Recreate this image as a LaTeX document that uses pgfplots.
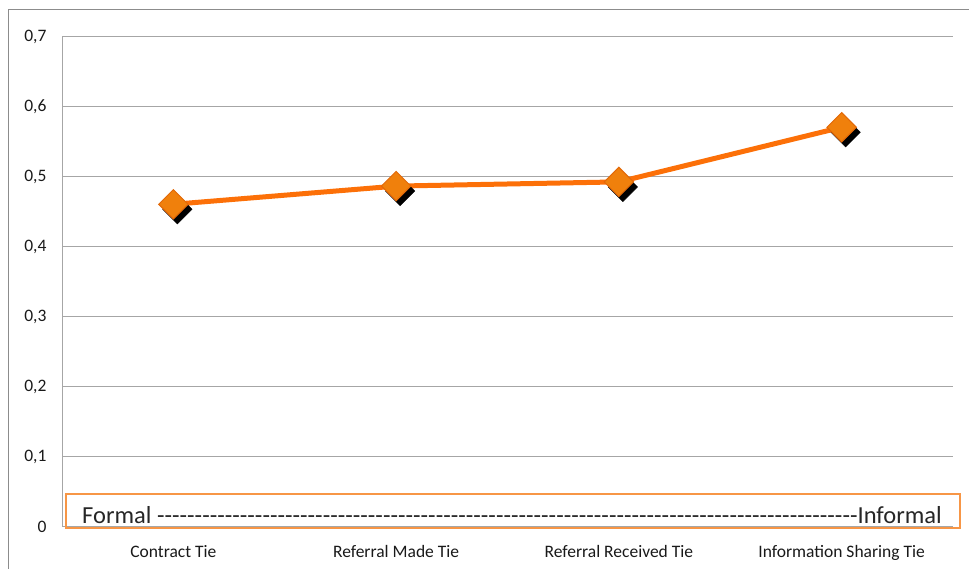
\documentclass[border=0pt]{standalone}
\usepackage{pgfplots}
\pgfplotsset{compat=1.18}
\usepackage{fontspec}
\setmainfont{Carlito}
\definecolor{lineor}{RGB}{252,112,8}
\definecolor{markor}{RGB}{240,128,12}
\definecolor{markedge}{RGB}{226,104,8}
\definecolor{boxor}{RGB}{247,150,70}
\definecolor{gridgray}{RGB}{166,166,166}
\definecolor{framegray}{RGB}{140,140,140}
\begin{document}
\begin{tikzpicture}[x=1pt,y=1pt]
\path[use as bounding box] (0,0) rectangle (969,569);
\draw[framegray, line width=1pt] (8,-10) rectangle (985,559);
\begin{axis}[
  at={(62pt,42pt)}, anchor=south west,
  scale only axis, width=891pt, height=490pt,
  xmin=-0.5, xmax=3.5, ymin=0, ymax=0.7,
  xtick={0,1,2,3},
  xticklabels={Contract Tie, Referral Made Tie, Referral Received Tie, Information Sharing Tie},
  ytick={0,0.1,0.2,0.3,0.4,0.5,0.6,0.7},
  axis x line*=bottom, axis y line*=left,
  axis line style={gridgray, line width=1pt, -},
  ymajorgrids, grid style={gridgray, line width=1pt},
  major tick length=0pt,
  tick label style={font=\fontsize{17.5}{20}\selectfont, text=black!90},
  yticklabel style={xshift=-12pt, /pgf/number format/.cd, fixed, precision=1, use comma, assume math mode=true},
  xticklabel style={yshift=-15pt},
  clip=false,
]
\addplot[only marks, mark=square*, mark size=10.4pt,
  mark options={xshift=4pt, yshift=-5pt, rotate=45, fill=black, draw=black}]
  coordinates {(0,0.461) (1,0.487) (2,0.493) (3,0.571)};
\addplot[lineor, line width=5pt, mark=square*, mark size=10.4pt,
  mark options={rotate=45, fill=markor, draw=markedge, line width=1pt}]
  coordinates {(0,0.461) (1,0.487) (2,0.493) (3,0.571)};
\end{axis}
\draw[boxor, line width=1.3pt] (66,41) rectangle (960,75);
\node[anchor=base west, inner sep=0pt, text=black!85, font=\fontsize{24.5}{28}\selectfont] at (82,45) {\hbox to 860pt{Formal \xleaders\hbox{-}\hfill Informal}};
\end{tikzpicture}
\end{document}
